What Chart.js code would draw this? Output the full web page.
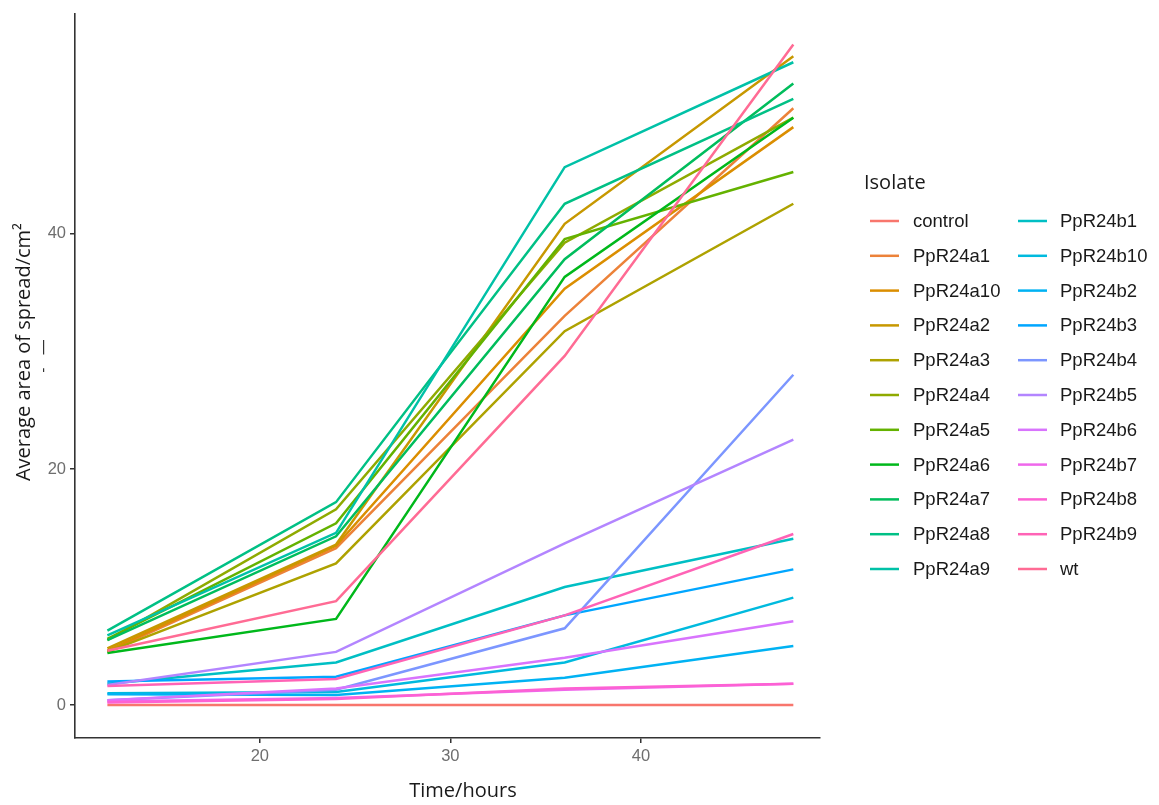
<!DOCTYPE html>
<html>
<head>
<meta charset="utf-8">
<script src="https://cdn.jsdelivr.net/npm/chart.js@4.4.1/dist/chart.umd.min.js"></script>
<style>
  html, body { margin: 0; padding: 0; background: #ffffff; }
  #wrap { position: relative; width: 1159px; height: 805px; }
</style>
</head>
<body>
<div id="wrap"><canvas id="c" width="1159" height="805"></canvas></div>
<script>
// Sampling times (hours)
const hours = [12, 24, 36, 48];

// Isolate names, in legend order
const isolates = [
  'control', 'PpR24a1', 'PpR24a10', 'PpR24a2', 'PpR24a3', 'PpR24a4', 'PpR24a5',
  'PpR24a6', 'PpR24a7', 'PpR24a8', 'PpR24a9', 'PpR24b1', 'PpR24b10', 'PpR24b2',
  'PpR24b3', 'PpR24b4', 'PpR24b5', 'PpR24b6', 'PpR24b7', 'PpR24b8', 'PpR24b9', 'wt'
];

// Average area of spread (cm²) at 12, 24, 36, 48 h
const control  = [0.0, 0.0, 0.0, 0.0];
const ppR24a1  = [4.5, 13.3, 33.0, 50.6];
const ppR24a10 = [4.6, 13.5, 35.3, 49.0];
const ppR24a2  = [4.8, 13.6, 40.8, 55.0];
const ppR24a3  = [4.5, 12.0, 31.7, 42.5];
const ppR24a4  = [5.5, 16.6, 39.2, 49.8];
const ppR24a5  = [5.6, 15.4, 39.5, 45.2];
const ppR24a6  = [4.4, 7.3, 36.3, 49.8];
const ppR24a7  = [5.5, 14.3, 37.8, 52.7];
const ppR24a8  = [6.3, 17.2, 42.5, 51.4];
const ppR24a9  = [5.9, 14.6, 45.6, 54.5];
const ppR24b1  = [1.8, 3.6, 10.0, 14.1];
const ppR24b10 = [1.0, 1.1, 3.6, 9.1];
const ppR24b2  = [0.9, 0.85, 2.3, 5.0];
const ppR24b3  = [2.0, 2.4, 7.6, 11.5];
const ppR24b4  = [0.4, 1.3, 6.5, 28.0];
const ppR24b5  = [1.7, 4.5, 13.7, 22.5];
const ppR24b6  = [0.4, 1.4, 4.0, 7.1];
const ppR24b7  = [0.3, 0.6, 1.3, 1.8];
const ppR24b8  = [0.2, 0.5, 1.4, 1.8];
const ppR24b9  = [1.6, 2.2, 7.6, 14.5];
const wt       = [4.6, 8.8, 29.6, 56.0];

const seriesValues = [
  control, ppR24a1, ppR24a10, ppR24a2, ppR24a3, ppR24a4, ppR24a5, ppR24a6,
  ppR24a7, ppR24a8, ppR24a9, ppR24b1, ppR24b10, ppR24b2, ppR24b3, ppR24b4,
  ppR24b5, ppR24b6, ppR24b7, ppR24b8, ppR24b9, wt
];

// Axis tick labels
const xTickValues = [20, 30, 40];
const yTickValues = [0, 20, 40];

// Evenly spaced hues in polar CIE-Luv (chroma 100, luminance 65)
function hclToHex(h, c, l) {
  const hr = h * Math.PI / 180;
  const u = c * Math.cos(hr), v = c * Math.sin(hr);
  const Xn = 95.047, Yn = 100.0, Zn = 108.883;
  const un = 4 * Xn / (Xn + 15 * Yn + 3 * Zn);
  const vn = 9 * Yn / (Xn + 15 * Yn + 3 * Zn);
  const Y = l > 8 ? Yn * Math.pow((l + 16) / 116, 3) : Yn * l / 903.3;
  const up = u / (13 * l) + un, vp = v / (13 * l) + vn;
  const X = Y * 9 * up / (4 * vp);
  const Z = Y * (12 - 3 * up - 20 * vp) / (4 * vp);
  const x = X / 100, y = Y / 100, z = Z / 100;
  let r = 3.2404542 * x - 1.5371385 * y - 0.4985314 * z;
  let g = -0.9692660 * x + 1.8760108 * y + 0.0415560 * z;
  let b = 0.0556434 * x - 0.2040259 * y + 1.0572252 * z;
  const gam = t => t <= 0.0031308 ? 12.92 * t : 1.055 * Math.pow(t, 1 / 2.4) - 0.055;
  const to = t => Math.round(Math.max(0, Math.min(1, gam(t))) * 255).toString(16).padStart(2, '0');
  return '#' + to(r) + to(g) + to(b);
}
const n = isolates.length;
const palette = isolates.map((_, i) => hclToHex(15 + 360 * i / n, 100, 65));

const datasets = isolates.map((name, i) => ({
  label: name,
  data: hours.map((h, j) => ({ x: h, y: seriesValues[i][j] })),
  borderColor: palette[i],
  backgroundColor: palette[i],
  borderWidth: 2.5,
  pointRadius: 0,
  tension: 0,
  fill: false,
  order: n - 1 - i
}));

// Axis titles and the two-column legend
const decorations = {
  id: 'decorations',
  afterDraw(chart) {
    const ctx = chart.ctx;
    ctx.save();
    ctx.fillStyle = '#1a1a1a';
    ctx.font = '20px "Open Sans"';
    ctx.textAlign = 'center';
    ctx.textBaseline = 'middle';
    ctx.fillText('Time/hours', 463, 791);

    ctx.save();
    ctx.translate(24, 352);
    ctx.rotate(-Math.PI / 2);
    ctx.fillText('Average area of spread/cm²', 0, 0);
    ctx.restore();

    ctx.save();
    ctx.font = '16px "Open Sans"';
    ctx.fillStyle = '#333';
    ctx.translate(43, 356);
    ctx.rotate(-Math.PI / 2);
    ctx.fillText('-   —', 0, 0);
    ctx.restore();

    // legend
    ctx.textAlign = 'left';
    ctx.font = '20px "Open Sans"';
    ctx.fillText('Isolate', 864, 183);
    ctx.font = '18.5px "Liberation Sans"';
    const rows = 11;
    chart.data.datasets.forEach((ds, i) => {
      const col = Math.floor(i / rows), row = i % rows;
      const y = 221 + row * 34.8;
      const kx = col === 0 ? 870 : 1018;
      const lx = col === 0 ? 913 : 1060;
      ctx.strokeStyle = ds.borderColor;
      ctx.lineWidth = 2.5;
      ctx.beginPath();
      ctx.moveTo(kx, y);
      ctx.lineTo(kx + 29, y);
      ctx.stroke();
      ctx.fillStyle = '#1a1a1a';
      ctx.fillText(ds.label, lx, y + 1);
    });
    ctx.restore();
  }
};

const tickFont = { family: '"Liberation Sans", Arial, sans-serif', size: 16.5 };

new Chart(document.getElementById('c'), {
  type: 'line',
  data: { datasets },
  options: {
    responsive: false,
    devicePixelRatio: 1,
    animation: false,
    layout: { padding: { left: 0, right: 339, top: 10, bottom: 0 } },
    plugins: { legend: { display: false }, tooltip: { enabled: false } },
    scales: {
      x: {
        type: 'linear',
        min: 10.3,
        max: 49.4,
        afterBuildTicks: s => { s.ticks = xTickValues.map(v => ({ value: v })); },
        afterFit: s => { s.height = 67; },
        ticks: { color: '#6e6e6e', font: tickFont, padding: 4, maxRotation: 0, autoSkip: false },
        grid: { drawOnChartArea: false, drawTicks: true, tickLength: 5, color: '#333', lineWidth: 1.5 },
        border: { display: true, color: '#333', width: 1.6 }
      },
      y: {
        type: 'linear',
        min: -2.8,
        max: 58.6,
        afterBuildTicks: s => { s.ticks = yTickValues.map(v => ({ value: v })); },
        afterFit: s => { s.width = 75; },
        ticks: { color: '#6e6e6e', font: tickFont, padding: 4, autoSkip: false },
        grid: { drawOnChartArea: false, drawTicks: true, tickLength: 5, color: '#333', lineWidth: 1.5 },
        border: { display: true, color: '#333', width: 1.6 }
      }
    }
  },
  plugins: [decorations]
});
</script>
</body>
</html>
